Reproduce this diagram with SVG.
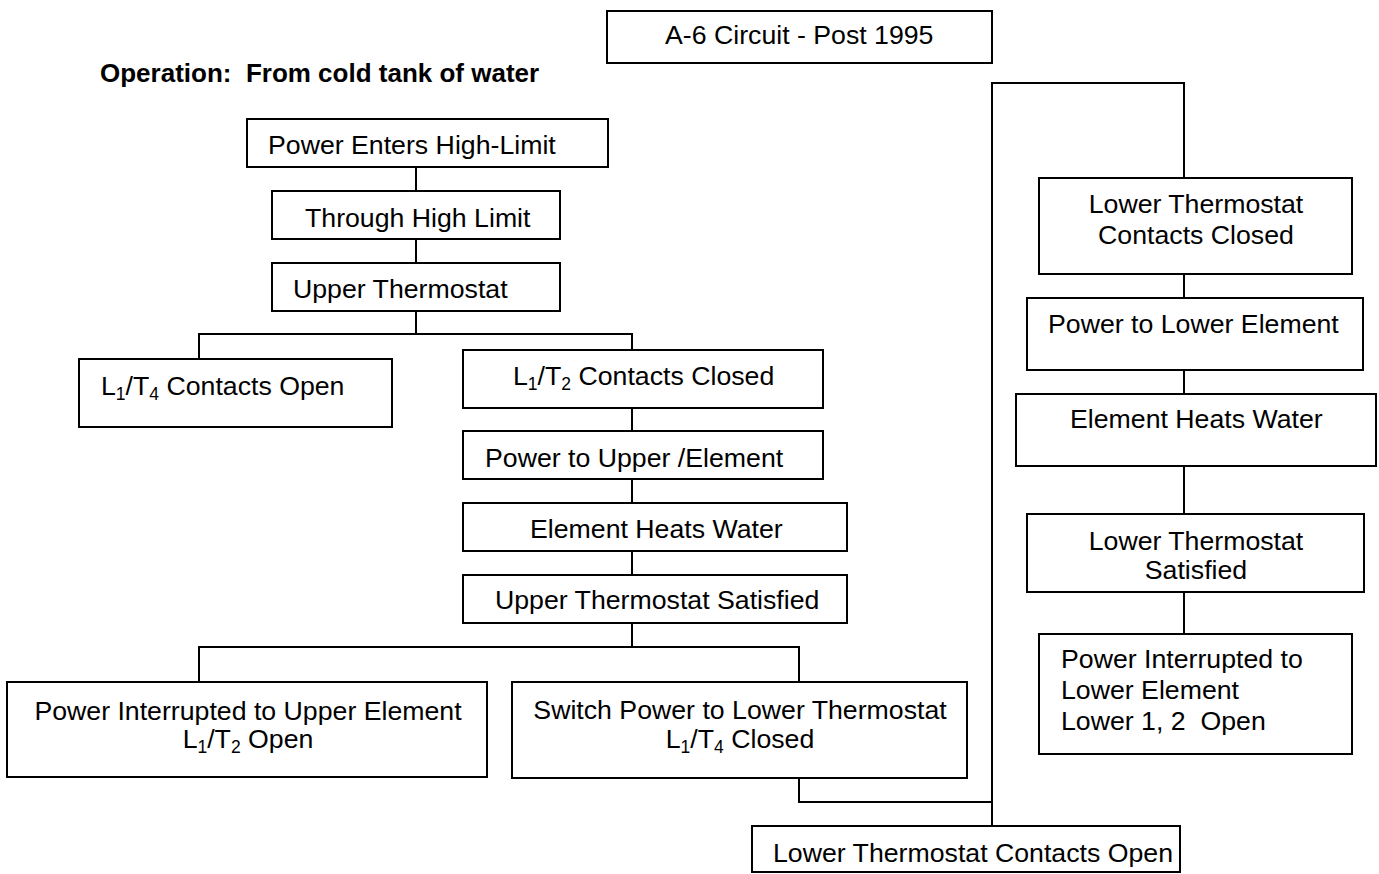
<svg xmlns="http://www.w3.org/2000/svg" width="1379" height="874" viewBox="0 0 1379 874">
<style>
rect.box{fill:#fff;stroke:#000;stroke-width:2}
.c{fill:none;stroke:#000;stroke-width:2}
text{font-family:"Liberation Sans",Arial,sans-serif;font-size:26.7px;fill:#000;white-space:pre}
text.m{text-anchor:middle}
text.b{font-weight:bold;font-size:26px}
tspan.s{font-size:17.5px}
</style>
<rect width="1379" height="874" fill="#fff"/>
<g id="connectors">
<polyline class="c" points="416,167 416,191"/>
<polyline class="c" points="416,239 416,263"/>
<polyline class="c" points="416,311 416,334"/>
<polyline class="c" points="199,359 199,334 632,334 632,350"/>
<polyline class="c" points="632,408 632,431"/>
<polyline class="c" points="632,479 632,503"/>
<polyline class="c" points="632,551 632,575"/>
<polyline class="c" points="632,623 632,647"/>
<polyline class="c" points="199,682 199,647 799,647 799,682"/>
<polyline class="c" points="799,778 799,802 992,802"/>
<polyline class="c" points="992,826 992,83 1184,83 1184,178"/>
<polyline class="c" points="1184,274 1184,298"/>
<polyline class="c" points="1184,370 1184,394"/>
<polyline class="c" points="1184,466 1184,514"/>
<polyline class="c" points="1184,592 1184,634"/>
</g>
<g id="title"><rect class="box" x="607" y="11" width="385" height="52"/><text x="665" y="44">A-6 Circuit - Post 1995</text></g>
<g id="heading"><text class="b" x="100" y="82">Operation:  From cold tank of water</text></g>
<g id="n1"><rect class="box" x="247" y="119" width="361" height="48"/><text x="268" y="154">Power Enters High-Limit</text></g>
<g id="n2"><rect class="box" x="272" y="191" width="288" height="48"/><text x="305" y="227">Through High Limit</text></g>
<g id="n3"><rect class="box" x="272" y="263" width="288" height="48"/><text x="293" y="298">Upper Thermostat</text></g>
<g id="n4"><rect class="box" x="79" y="359" width="313" height="68"/><text x="101" y="395">L<tspan class="s" dy="5">1</tspan><tspan dy="-5">/T</tspan><tspan class="s" dy="5">4</tspan><tspan dy="-5"> Contacts Open</tspan></text></g>
<g id="n5"><rect class="box" x="463" y="350" width="360" height="58"/><text x="513" y="385">L<tspan class="s" dy="5">1</tspan><tspan dy="-5">/T</tspan><tspan class="s" dy="5">2</tspan><tspan dy="-5"> Contacts Closed</tspan></text></g>
<g id="n6"><rect class="box" x="463" y="431" width="360" height="48"/><text x="485" y="467">Power to Upper /Element</text></g>
<g id="n7"><rect class="box" x="463" y="503" width="384" height="48"/><text x="530" y="538">Element Heats Water</text></g>
<g id="n8"><rect class="box" x="463" y="575" width="384" height="48"/><text x="495" y="609">Upper Thermostat Satisfied</text></g>
<g id="n9"><rect class="box" x="7" y="682" width="480" height="95"/><text class="m" x="248" y="720">Power Interrupted to Upper Element</text><text class="m" x="248" y="748">L<tspan class="s" dy="5">1</tspan><tspan dy="-5">/T</tspan><tspan class="s" dy="5">2</tspan><tspan dy="-5"> Open</tspan></text></g>
<g id="n10"><rect class="box" x="512" y="682" width="455" height="96"/><text class="m" x="740" y="719">Switch Power to Lower Thermostat</text><text class="m" x="740" y="748">L<tspan class="s" dy="5">1</tspan><tspan dy="-5">/T</tspan><tspan class="s" dy="5">4</tspan><tspan dy="-5"> Closed</tspan></text></g>
<g id="n11"><rect class="box" x="752" y="826" width="428" height="46"/><text x="773" y="862">Lower Thermostat Contacts Open</text></g>
<g id="n12"><rect class="box" x="1039" y="178" width="313" height="96"/><text class="m" x="1196" y="213">Lower Thermostat</text><text class="m" x="1196" y="244">Contacts Closed</text></g>
<g id="n13"><rect class="box" x="1027" y="298" width="336" height="72"/><text x="1048" y="333">Power to Lower Element</text></g>
<g id="n14"><rect class="box" x="1016" y="394" width="360" height="72"/><text x="1070" y="428">Element Heats Water</text></g>
<g id="n15"><rect class="box" x="1027" y="514" width="337" height="78"/><text class="m" x="1196" y="550">Lower Thermostat</text><text class="m" x="1196" y="579">Satisfied</text></g>
<g id="n16"><rect class="box" x="1039" y="634" width="313" height="120"/><text x="1061" y="668">Power Interrupted to</text><text x="1061" y="699">Lower Element</text><text x="1061" y="730">Lower 1, 2  Open</text></g>
</svg>
